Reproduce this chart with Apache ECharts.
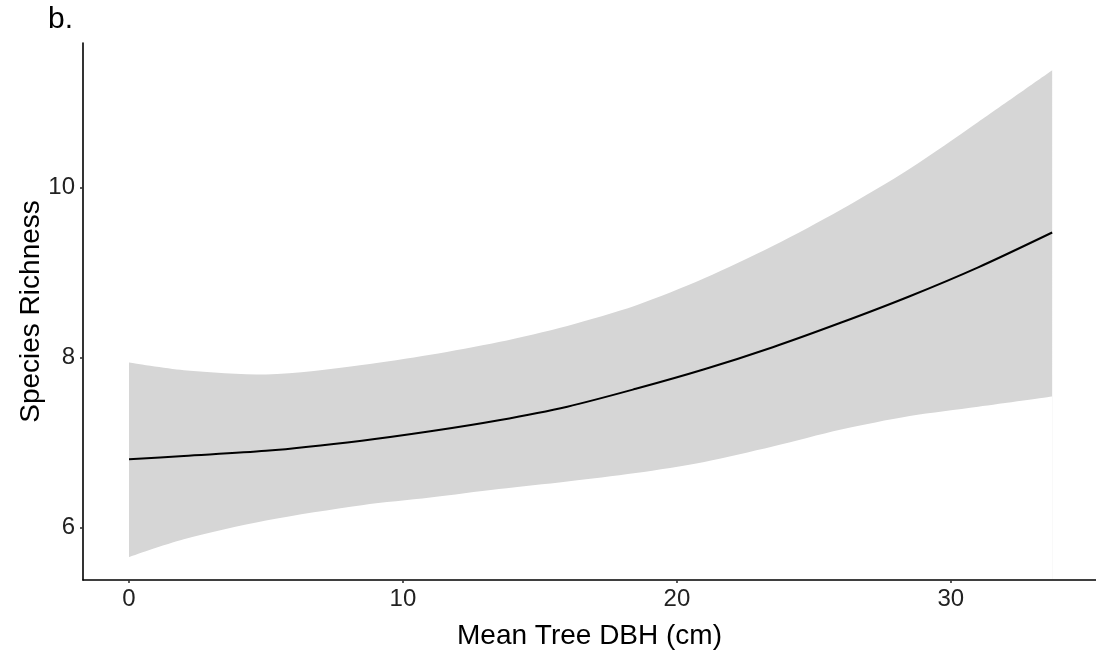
<!DOCTYPE html>
<html>
<head>
<meta charset="utf-8">
<script src="https://cdn.jsdelivr.net/npm/echarts@6/dist/echarts.min.js"></script>
<style>
  html, body { margin: 0; padding: 0; background: #fff; }
  #main { width: 1096px; height: 655px; }
</style>
</head>
<body>
<div id="main"></div>
<script>
// mean tree DBH (cm)
var dbh = [0, 2, 5, 8.5, 11, 13.5, 16, 18.5, 21, 23.5, 26, 28.5, 31, 33.7]
// fitted species richness
var fitVals = [6.80, 6.84, 6.90, 7.02, 7.13, 7.26, 7.42, 7.63, 7.86, 8.12, 8.41, 8.72, 9.06, 9.47]
// confidence band
var upperVals = [7.94, 7.85, 7.80, 7.91, 8.03, 8.18, 8.37, 8.61, 8.93, 9.31, 9.74, 10.22, 10.77, 11.38]
var lowerVals = [5.65, 5.86, 6.08, 6.26, 6.35, 6.45, 6.54, 6.64, 6.77, 6.95, 7.15, 7.31, 7.42, 7.54]
var xTicks = [0, 10, 20, 30]
var yTicks = [6, 8, 10]

var chart = echarts.init(document.getElementById('main'))
var font = 'Arial, "Liberation Sans", sans-serif'
var smoothness = 0.3

function pairs (vals) {
  return dbh.map(function (x, i) { return [x, vals[i]] })
}

var option = {
  animation: false,
  backgroundColor: '#fff',
  textStyle: { fontFamily: font },
  title: {
    text: 'b.',
    left: 43,
    top: 0,
    textStyle: { fontFamily: font, fontSize: 30, fontWeight: 'normal', color: '#000' }
  },
  grid: { left: 83, right: 0, top: 43, bottom: 72 },
  xAxis: {
    type: 'value',
    min: -1.68,
    max: 35.3,
    z: 10,
    name: 'Mean Tree DBH (cm)',
    nameLocation: 'middle',
    nameGap: 42,
    nameMoveOverlap: false,
    nameTextStyle: { fontSize: 28, color: '#000', fontFamily: font },
    axisLine: { show: true, onZero: false, lineStyle: { color: '#000', width: 1.6 } },
    axisTick: { show: true, length: 3, customValues: xTicks, lineStyle: { color: '#333', width: 1.6 } },
    axisLabel: { fontSize: 24, color: '#222', margin: 7, customValues: xTicks },
    splitLine: { show: false }
  },
  yAxis: {
    type: 'value',
    min: 5.38,
    max: 11.7,
    z: 10,
    name: 'Species Richness',
    nameLocation: 'middle',
    nameGap: 38,
    nameMoveOverlap: false,
    nameTextStyle: { fontSize: 28, color: '#000', fontFamily: font },
    axisLine: { show: true, onZero: false, lineStyle: { color: '#000', width: 1.6 } },
    axisTick: { show: true, length: 3, customValues: yTicks, lineStyle: { color: '#333', width: 1.6 } },
    axisLabel: { fontSize: 24, color: '#222', margin: 8, customValues: yTicks },
    splitLine: { show: false }
  },
  series: [
    {
      // upper edge of the band, filled down to the axis
      name: 'upper',
      type: 'line',
      data: pairs(upperVals),
      symbol: 'none',
      smooth: smoothness,
      lineStyle: { width: 0, opacity: 0 },
      areaStyle: { color: '#d6d6d6', opacity: 1, origin: 'start' },
      silent: true,
      z: 1
    },
    {
      // lower edge, white fill masks the gray below it
      name: 'lower',
      type: 'line',
      data: pairs(lowerVals),
      symbol: 'none',
      smooth: smoothness,
      lineStyle: { width: 0, opacity: 0 },
      areaStyle: { color: '#fff', opacity: 1, origin: 'start' },
      silent: true,
      z: 2
    },
    {
      name: 'fit',
      type: 'line',
      data: pairs(fitVals),
      symbol: 'none',
      smooth: smoothness,
      lineStyle: { color: '#000', width: 2 },
      z: 3
    }
  ]
}

chart.setOption(option)
</script>
</body>
</html>
